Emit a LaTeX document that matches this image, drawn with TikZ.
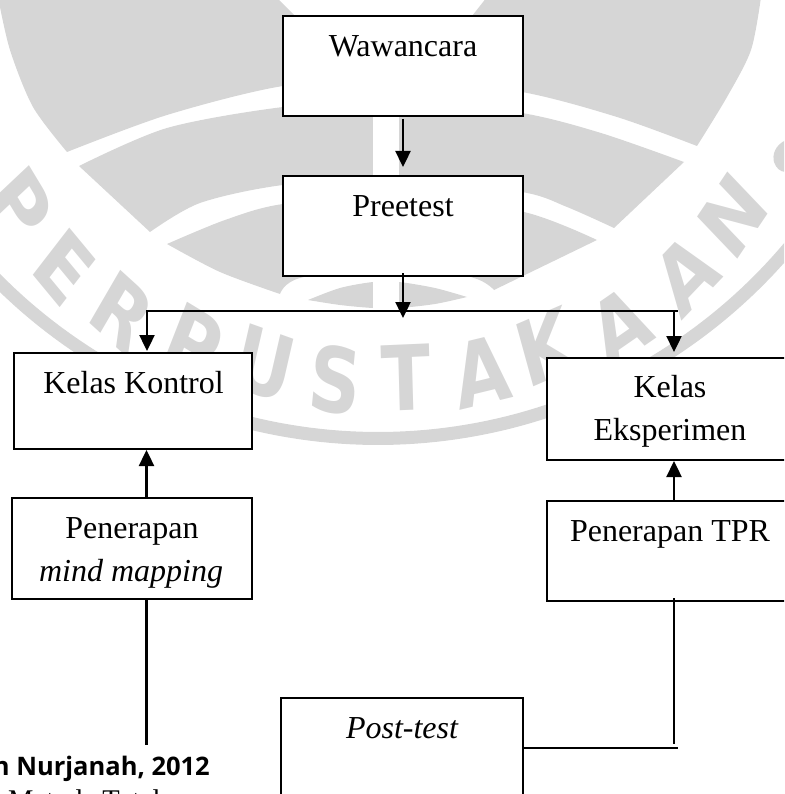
\documentclass[tikz,border=0pt]{standalone}
\usepackage{fontspec}
\setmainfont{Liberation Serif}
\newfontfamily\wmfont{DejaVu Sans}
\newfontfamily\credfont{Open Sans}
\usetikzlibrary{arrows.meta}
\definecolor{wmgray}{HTML}{D6D6D6}
\tikzset{
  boxnode/.style={draw=black,fill=white,line width=2.2pt,rectangle,inner sep=0pt,outer sep=0pt},
  lbl/.style={anchor=base,inner sep=0pt,outer sep=0pt,font=\fontsize{32}{36}\selectfont},
  arr/.style={line width=2.4pt,-{Triangle[width=15pt,length=16pt]}},
  conn/.style={line width=2.4pt},
  wml/.style={font=\wmfont\bfseries\fontsize{90}{90}\selectfont,text=wmgray,inner sep=0pt,xscale=.8},
  wmfill/.style={fill=wmgray,draw=none}
}
\begin{document}
\begin{tikzpicture}[x=1pt,y=-1pt]
\useasboundingbox (0,0) rectangle (784,794);
\clip (0,0) rectangle (784,794);
% watermark: sectors
\fill[wmfill] plot[smooth] coordinates {(-2,-3) (10,50) (33,107) (67,152)}
  -- plot[smooth] coordinates {(67,152) (167,115) (283,86) (400,78) (522,92) (617,117) (697,146)}
  -- plot[smooth] coordinates {(697,146) (727,97) (751,50) (761,-3)}
  -- (487,-3) -- (472,16) -- (472,50) -- (295,50) -- (295,16) -- (276,-3) -- cycle;
\fill[wmfill] plot[smooth] coordinates {(79,166) (167,128) (283,107) (400,99) (522,113) (601,133) (684,162)}
  -- (614,228)
  -- plot[smooth] coordinates {(614,228) (567,207) (522,192) (400,178) (283,185) (200,203) (150,232)}
  -- cycle;
\fill[wmfill] plot[smooth] coordinates {(167,244) (225,220) (283,204) (400,195) (524,212) (597,240)}
  -- (494,290) -- plot[smooth] coordinates {(494,290) (474,278) (400,262) (300,278) (280,294)}
  -- plot[smooth] coordinates {(280,294) (220,272) (167,244)} -- cycle;
\fill[wmfill] plot[smooth] coordinates {(308,300) (340,288) (373,282) (399,282) (435,288) (467,297)}
  -- plot[smooth] coordinates {(467,297) (435,304) (399,308) (373,308) (340,305) (308,300)} -- cycle;
\fill[white] (373,100) rectangle (399,312);
% watermark: ring
\fill[wmfill] plot[domain=40:140,samples=90] ({378+544*cos(\x)},{-99+544*sin(\x)})
  -- plot[domain=140:40,samples=90] ({378+531*cos(\x)},{-99+531*sin(\x)}) -- cycle;
% watermark: letters
\node[wml,rotate=-53] (wa) at (20,205) {P};
\node[wml,rotate=-44] (wb) at (64,267) {E};
\node[wml,rotate=-36] (wc) at (122,312) {R};
\node[wml,rotate=-26] (wd) at (194,342) {P};
\node[wml,rotate=-16] (we) at (265,364) {U};
\node[wml,rotate=-7] (wf) at (335,380) {S};
\node[wml,rotate=2] (wg) at (406,378) {T};
\node[wml,rotate=11] (wh) at (482,372) {A};
\node[wml,rotate=19] (wi) at (545,347) {K};
\node[wml,rotate=29] (wj) at (620,326) {A};
\node[wml,rotate=40] (wk) at (686,274) {A};
\node[wml,rotate=50] (wl) at (733,216) {N};
\fill[wmfill] (786,140) .. controls (775,145) and (772,155) .. (774,162) .. controls (776,168) and (780,172) .. (786,172) -- cycle;
% boxes
\node[boxnode,minimum width=240pt,minimum height=100pt] (waw) at (403,66) {};
\node[boxnode,minimum width=240pt,minimum height=100pt] (pre) at (403,226) {};
\node[boxnode,minimum width=238pt,minimum height=96pt] (kon) at (133,401) {};
\node[boxnode,minimum width=243pt,minimum height=102pt] (eks) at (668.5,409) {};
\node[boxnode,minimum width=240pt,minimum height=101pt] (mm) at (132,548.5) {};
\node[boxnode,minimum width=243pt,minimum height=100pt] (tpr) at (668.5,551) {};
\node[boxnode,minimum width=242pt,minimum height=102pt] (post) at (402,749) {};
% labels
\node[lbl] (twaw) at (403,57) {Wawancara};
\node[lbl] (tpre) at (403,217) {Preetest};
\node[lbl] (tkon) at (133.5,393) {Kelas Kontrol};
\node[lbl] (teka) at (670,397) {Kelas};
\node[lbl] (tekb) at (670,440) {Eksperimen};
\node[lbl] (tmma) at (132,538) {Penerapan};
\node[lbl] (tmmb) at (131,581) {\itshape mind mapping};
\node[lbl] (ttpr) at (670,541) {Penerapan TPR};
\node[lbl] (tpost) at (402,738) {\itshape Post-test};
\node[anchor=base east,inner sep=0pt,font=\credfont\bfseries\fontsize{25.5}{28}\selectfont] (cred) at (210,775) {n Nurjanah, 2012};
\node[anchor=base west,inner sep=0pt,font=\fontsize{28.5}{32}\selectfont] (cred2) at (8,809) {Metode Total};
% connector coordinates
\coordinate (jl) at (147,311);
\coordinate (jr) at (674,311);
\coordinate (jc) at (403,318);
\coordinate (hl) at (146,311);
\coordinate (hr) at (678,311);
\coordinate (ml) at (146.5,745);
\coordinate (mr) at (674,744);
\coordinate (pr) at (678,748);
% connectors
\draw[arr,shorten <=3pt,shorten >=9pt] (waw.south) -- (pre.north);
\draw[arr] ([yshift=3pt]pre.south) -- (jc);
\draw[conn] (hl) -- (hr);
\draw[arr,shorten >=2pt] (jl) -- (jl |- kon.north);
\draw[arr,shorten >=6pt] (jr) -- (jr |- eks.north);
\draw[arr,shorten >=1pt] (ml |- mm.north) -- (ml |- kon.south);
\draw[arr,shorten >=1pt] (jr |- tpr.north) -- (jr |- eks.south);
\draw[conn] (ml |- mm.south) -- (ml);
\draw[line width=1.7pt] ([yshift=3pt]mr |- tpr.south) -- (mr);
\draw[conn] (post.east |- pr) -- (pr);
\end{tikzpicture}
\end{document}
